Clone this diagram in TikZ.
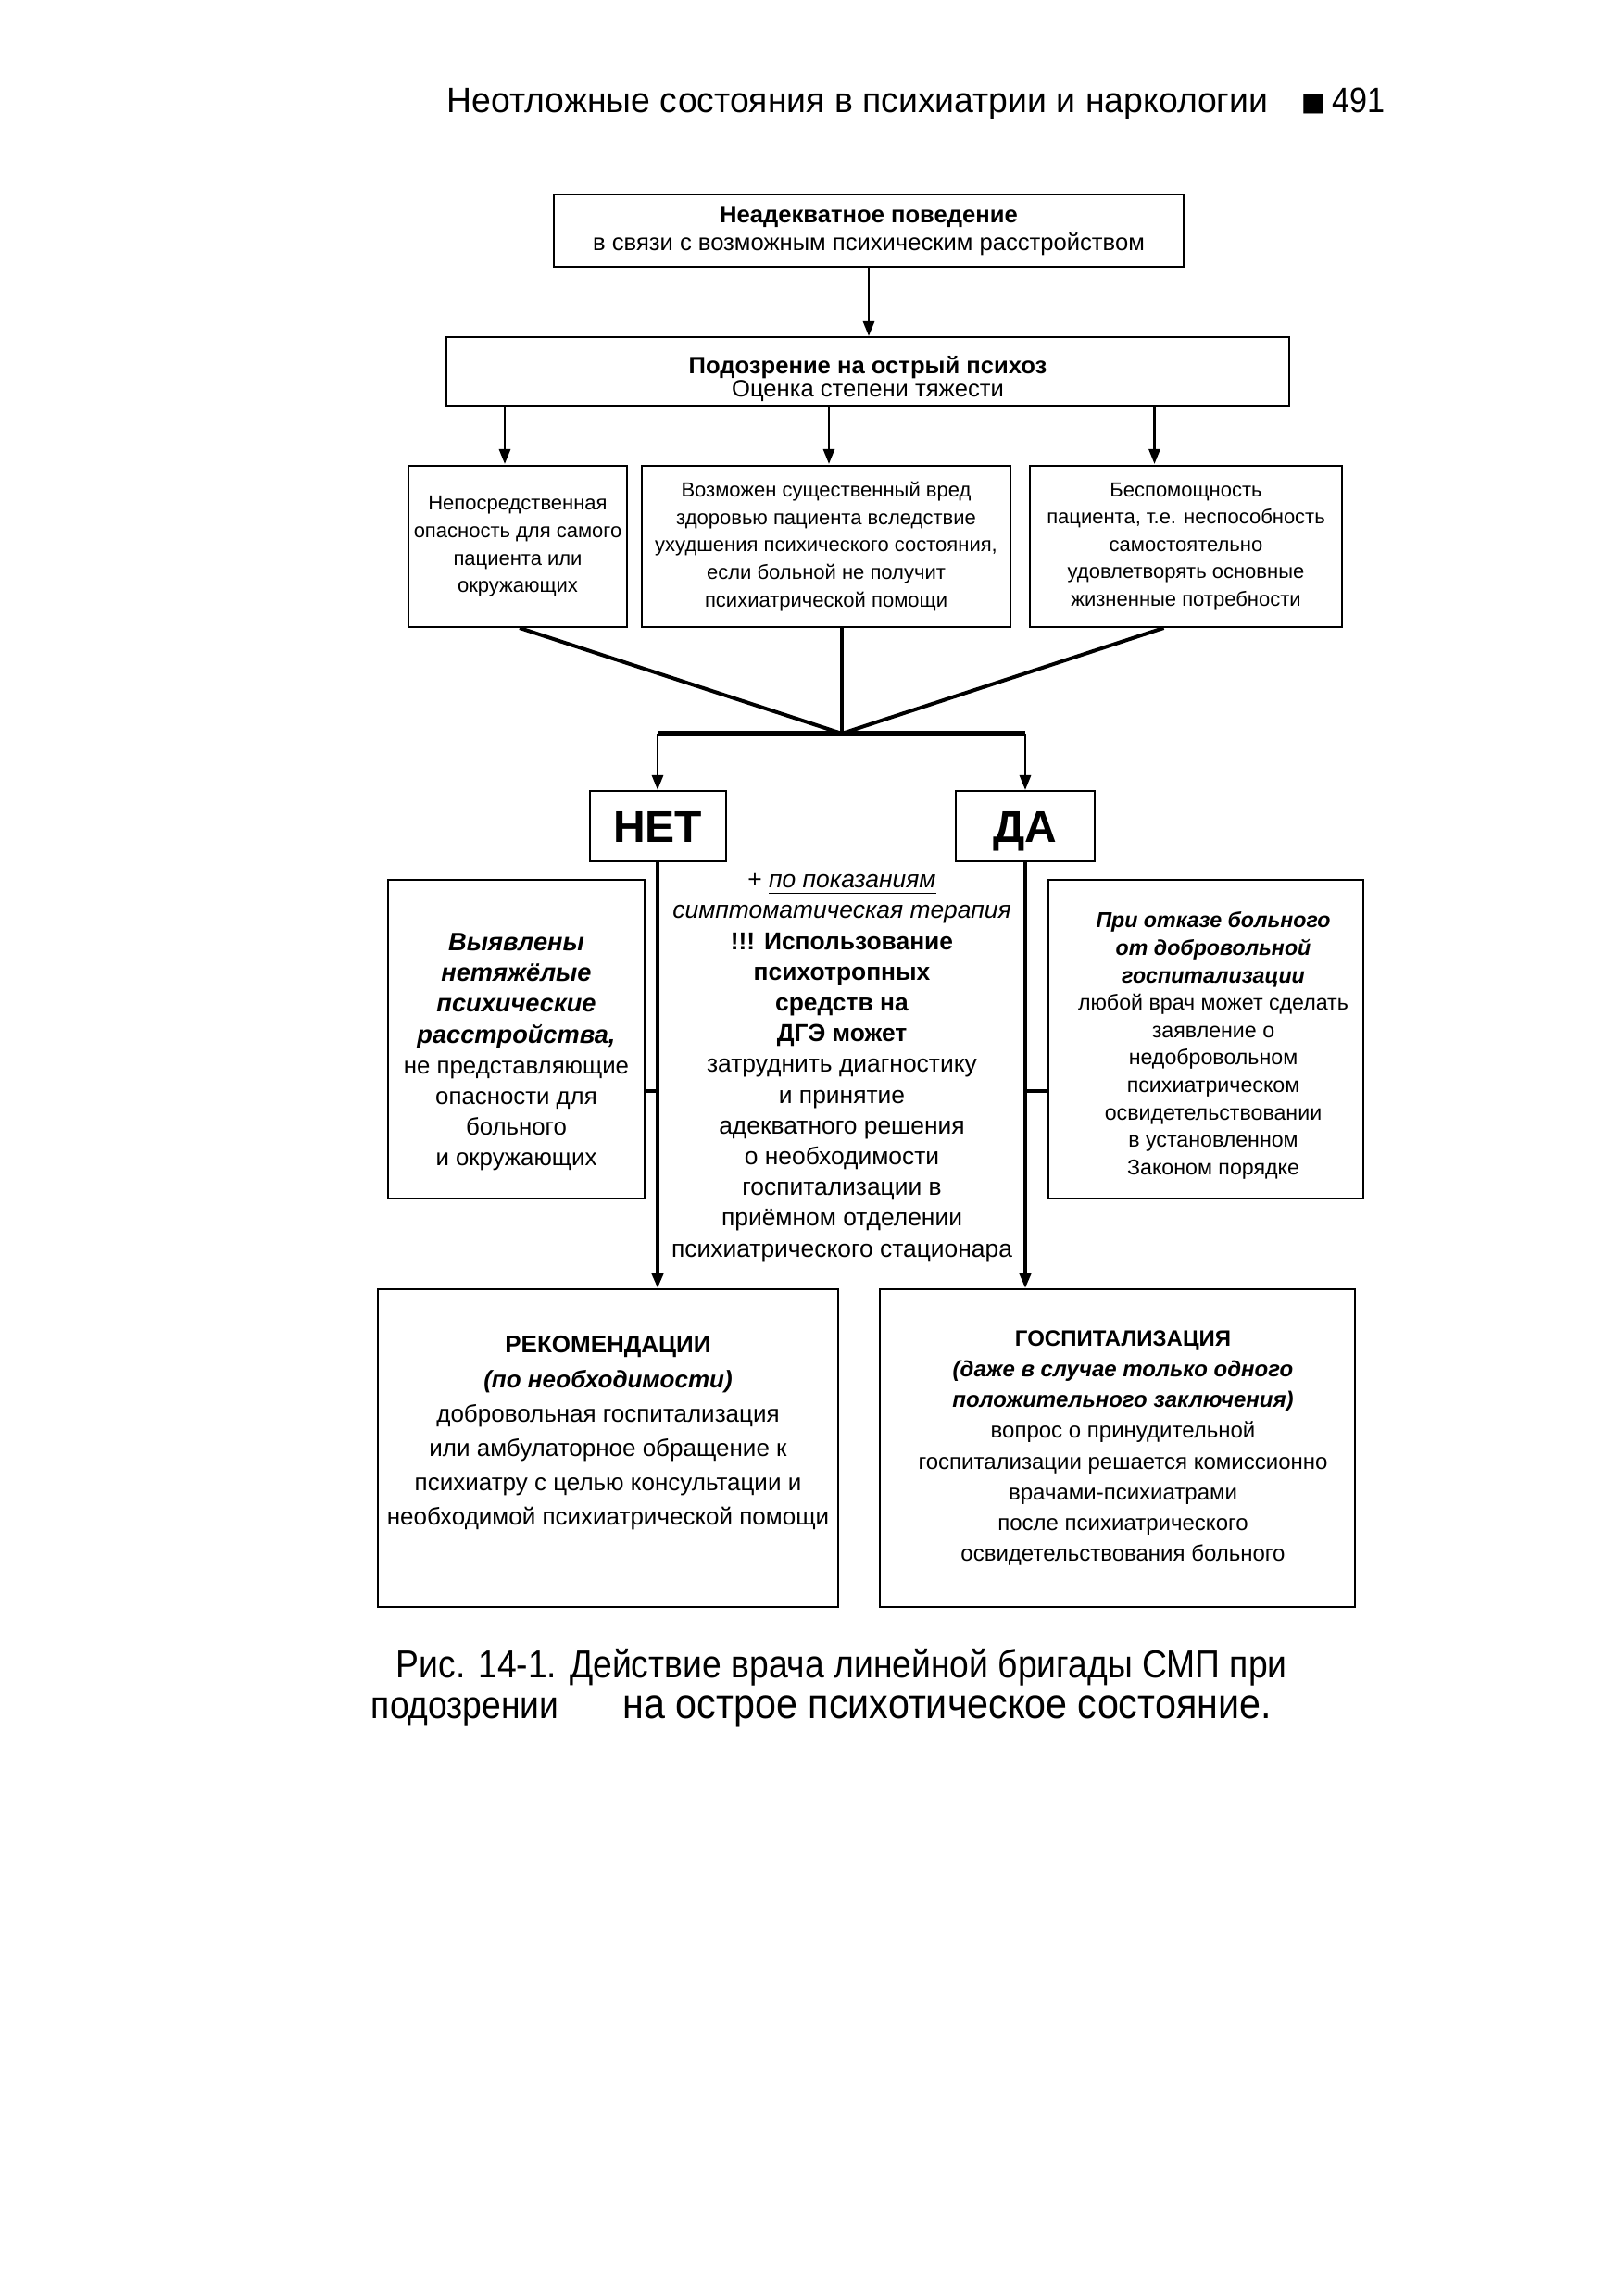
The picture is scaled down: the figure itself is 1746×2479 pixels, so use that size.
\documentclass[tikz,border=0pt]{standalone}
\usepackage{fontspec}
\setmainfont{Liberation Sans}
\newfontfamily\dejavu{DejaVu Sans}
\usepackage{graphicx}
\usetikzlibrary{arrows.meta,calc}
\tikzset{
  box/.style={draw, line width=0.5pt, rectangle, inner sep=0pt, align=center},
  plain/.style={inner sep=0pt, align=center},
  arr/.style={line width=0.7pt, -{Triangle[length=4pt,width=3pt]}},
  conv/.style={line width=1pt},
  bar/.style={line width=1.6pt},
  yesno/.style={box, text height=8.6pt, text depth=0pt, font=\fontsize{12}{13}\bfseries},
}
\newcommand{\bi}[1]{\textbf{\textit{#1}}}
\newcommand{\lbi}[1]{{\fontsize{6.8}{8.3}\selectfont\textbf{\textit{#1}}}}
\begin{document}
\begin{tikzpicture}[x=0.25pt,y=-0.25pt]
\useasboundingbox[fill=white] (0,0) rectangle (1746,2479);

% header
\node[plain, anchor=base west, font=\fontsize{9.5}{11}\selectfont] (hdr) at (482,122)
  {\scalebox{0.983}[1]{Неотложные состояния в психиатрии и наркологии}};
\node[plain, anchor=base west, font=\fontsize{7}{8}\selectfont] (sq) at (1404,120) {\dejavu ■};
\node[plain, anchor=base east, font=\fontsize{9.5}{11}\selectfont] (pg) at (1496,122) {\scalebox{0.9}[1]{491}};

% top boxes
\node[box, minimum width=170pt, minimum height=19.5pt, font=\fontsize{6.4}{7.5}\selectfont] (b1) at (938,249)
  {\textbf{Неадекватное поведение}\\в связи с возможным психическим расстройством};
\node[box, minimum width=227.5pt, minimum height=18.5pt] (b2) at (937,401) {};
\node[plain, font=\fontsize{6.4}{6.2}\selectfont] (b2t) at (937,409)
  {\textbf{Подозрение на острый психоз}\\Оценка степени тяжести};

\node[box, minimum width=59pt, minimum height=43.5pt, font=\fontsize{5.5}{7.4}\selectfont] (b3a) at (559,590)
  {Непосредственная\\опасность для самого\\пациента или\\окружающих};
\node[box, minimum width=99.5pt, minimum height=43.5pt, font=\fontsize{5.5}{7.4}\selectfont] (b3b) at (892,590)
  {Возможен существенный вред\\здоровью пациента вследствие\\ухудшения психического состояния,\\если больной не получит\\психиатрической помощи};
\node[box, minimum width=84.25pt, minimum height=43.5pt, font=\fontsize{5.5}{7.4}\selectfont] (b3c) at (1280.5,590)
  {Беспомощность\\пациента, т.е. неспособность\\самостоятельно\\удовлетворять основные\\жизненные потребности};

\coordinate (apex) at (909,792);
\coordinate (barL) at (710,792);
\coordinate (barR) at (1107,792);

\node[yesno, minimum width=36.75pt, minimum height=19pt] (net) at (710,892) {НЕТ};
\node[yesno, minimum width=37.5pt, minimum height=19pt] (da) at (1107,892) {ДА};

% middle row
\node[box, minimum width=69.25pt, minimum height=86pt] (L) at (557.5,1122) {};
\node[plain, font=\fontsize{6.45}{8.3}\selectfont] (Lt) at (557.5,1136)
  {\lbi{Выявлены}\\\lbi{нетяжёлые}\\\lbi{психические}\\\lbi{расстройства,}\\не представляющие\\опасности для\\больного\\и окружающих};
\node[box, minimum width=85pt, minimum height=86pt] (R) at (1302,1122) {};
\node[plain, font=\fontsize{5.8}{7.4}\selectfont] (Rt) at (1310,1129)
  {\bi{При отказе больного}\\\bi{от добровольной}\\\bi{госпитализации}\\любой врач может сделать\\заявление о\\недобровольном\\психиатрическом\\освидетельствовании\\в установленном\\Законом порядке};
\node[plain, font=\fontsize{6.6}{8.3}\selectfont] (M) at (909,1153)
  {+ \textit{\underline{по показаниям}}\\\textit{симптоматическая терапия}\\\textbf{!!! Использование}\\\textbf{психотропных}\\\textbf{средств на}\\\textbf{ДГЭ может}\\затруднить диагностику\\и принятие\\адекватного решения\\о необходимости\\госпитализации в\\приёмном отделении\\психиатрического стационара};

% bottom boxes
\node[box, minimum width=124.25pt, minimum height=85.75pt] (BL) at (656.5,1563.5) {};
\node[plain, font=\fontsize{6.5}{9.3}\selectfont] (BLt) at (656.5,1547.5)
  {\textbf{РЕКОМЕНДАЦИИ}\\\bi{(по необходимости)}\\добровольная госпитализация\\или амбулаторное обращение к\\психиатру с целью консультации и\\необходимой психиатрической помощи};
\node[box, minimum width=128.25pt, minimum height=85.75pt] (BR) at (1206.5,1563.5) {};
\node[plain, font=\fontsize{6}{8.3}\selectfont] (BRt) at (1212.5,1563.5)
  {\textbf{ГОСПИТАЛИЗАЦИЯ}\\\bi{(даже в случае только одного}\\\bi{положительного заключения)}\\вопрос о принудительной\\госпитализации решается комиссионно\\врачами-психиатрами\\после психиатрического\\освидетельствования больного};

% connectors
\draw[arr] (b1.south) -- (b1.south |- b2.north);
\draw[arr] (b2.south -| b3a.north) ++(-14,0) -- ++(0,62);
\draw[arr] (b2.south -| b3b.north) ++(3,0) -- ++(0,62);
\draw[arr] (b2.south -| b3c.north) ++(-34,0) -- ++(0,62);

\draw[conv] ($(b3a.south)+(2,0)$) -- (apex);
\draw[conv] (b3b.south -| apex) -- (apex);
\draw[conv] ($(b3c.south)+(-24,0)$) -- (apex);
\draw[bar] (barL) -- (barR);
\draw[arr] (barL) -- (net.north);
\draw[arr] (barR) -- (da.north);

\draw[line width=1pt, -{Triangle[length=4pt,width=3pt]}] (net.south) -- (net.south |- BL.north);
\draw[line width=1pt, -{Triangle[length=4pt,width=3pt]}] (da.south) -- (da.south |- BR.north);
\draw[line width=1pt] ([yshift=-14pt]L.east) -- ([yshift=-14pt]L.east -| net.south);
\draw[line width=1pt] ([yshift=-14pt]R.west) -- ([yshift=-14pt]R.west -| da.south);

% caption
\node[plain, anchor=base west, font=\fontsize{10.5}{12}\selectfont] (cap1) at (427,1811)
  {\scalebox{0.888}[1]{Рис. 14-1. Действие врача линейной бригады СМП при}};
\node[plain, anchor=base west, font=\fontsize{10.5}{12}\selectfont] (cap2a) at (400,1855)
  {\scalebox{0.887}[1]{подозрении}};
\node[plain, anchor=base west, font=\fontsize{11.5}{13}\selectfont] (cap2b) at (672,1855)
  {\scalebox{0.897}[1]{на острое психотическое состояние.}};
\end{tikzpicture}
\end{document}
